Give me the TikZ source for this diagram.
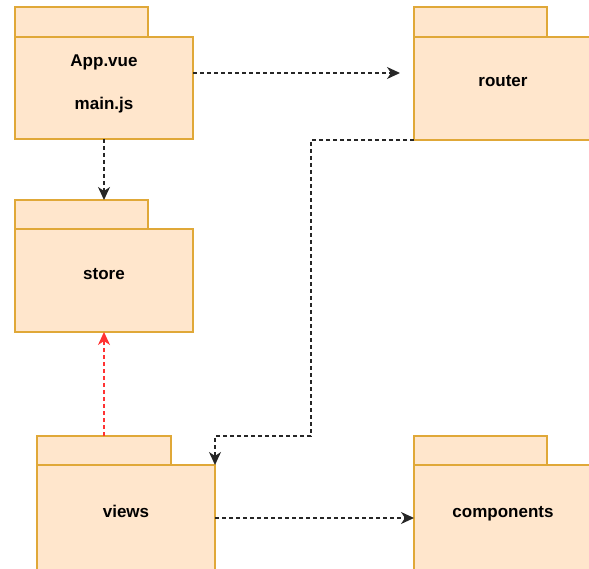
\documentclass[tikz,border=0pt]{standalone}
\usepackage{fontspec}
\setmainfont{Liberation Sans}
\usetikzlibrary{arrows.meta}
\definecolor{pkgfill}{HTML}{FFE6CC}
\definecolor{pkgline}{HTML}{E0A838}
\definecolor{deplink}{HTML}{FF3333}
\begin{document}
\begin{tikzpicture}[x=1pt,y=-1pt,
  pkgpart/.style={draw=pkgline, fill=pkgfill, line width=1.6pt, rectangle,
                  inner sep=0pt, outer sep=0pt},
  pkgarea/.style={rectangle, inner sep=0pt, outer sep=0pt},
  pkglabel/.style={font=\bfseries\fontsize{17}{20}\selectfont, anchor=base, inner sep=0pt},
  dep/.style={draw=black!85, line width=1.3pt, dash pattern=on 4pt off 3pt,
              -{Stealth[length=13pt,width=12pt,inset=4pt]}},
  usedep/.style={dep, draw=deplink}]
\useasboundingbox (0,0) rectangle (589,569);
\clip (0,0) rectangle (589,569);

% App.vue / main.js package
\node[pkgarea, minimum width=178pt, minimum height=132pt] (app) at (104,73) {};
\node[pkgpart, minimum width=133pt, minimum height=30pt] (apptab) at (81.5,22) {};
\node[pkgpart, minimum width=178pt, minimum height=102pt] (appbody) at (104,88) {};
\node[pkglabel] (apptext1) at (104,67) {App.vue};
\node[pkglabel] (apptext2) at (104,110) {main.js};

% router package
\node[pkgarea, minimum width=178pt, minimum height=133pt] (router) at (503,73.5) {};
\node[pkgpart, minimum width=133pt, minimum height=30pt] (routertab) at (480.5,22) {};
\node[pkgpart, minimum width=178pt, minimum height=103pt] (routerbody) at (503,88.5) {};
\node[pkglabel] (routertext) at (503,87) {router};

% store package
\node[pkgarea, minimum width=178pt, minimum height=132pt] (store) at (104,266) {};
\node[pkgpart, minimum width=133pt, minimum height=29pt] (storetab) at (81.5,214.5) {};
\node[pkgpart, minimum width=178pt, minimum height=103pt] (storebody) at (104,280.5) {};
\node[pkglabel] (storetext) at (104,280) {store};

% views package
\node[pkgarea, minimum width=178pt, minimum height=135pt] (views) at (126,503.5) {};
\node[pkgpart, minimum width=134pt, minimum height=29pt] (viewstab) at (104,450.5) {};
\node[pkgpart, minimum width=178pt, minimum height=106pt] (viewsbody) at (126,518) {};
\node[pkglabel] (viewstext) at (126,517) {views};

% components package
\node[pkgpart, minimum width=133pt, minimum height=29pt] (comptab) at (480.5,450.5) {};
\node[pkgpart, minimum width=178pt, minimum height=106pt] (compbody) at (503,518) {};
\node[pkglabel] (comptext) at (503,517) {components};

% dependencies
\coordinate (jog) at (311,436);
\draw[dep, shorten >=14pt] (app.east) -- (app.east -| router.west);
\draw[dep] (app.south) -- (store.north);
\draw[usedep] (views.north -| store.south) -- (store.south);
\draw[dep] (routerbody.south west) -| (jog) -| (viewsbody.north east);
\draw[dep] (viewsbody.east) -- (compbody.west);
\end{tikzpicture}
\end{document}
